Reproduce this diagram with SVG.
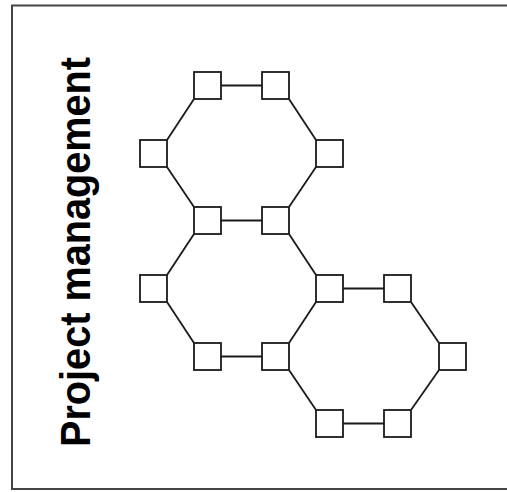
<svg xmlns="http://www.w3.org/2000/svg" width="507" height="492" viewBox="0 0 507 492">
<style>
.frame{fill:none;stroke:#454545;stroke-width:2}
.node rect{fill:#fff;stroke:#1a1a1a;stroke-width:1.8}
.conn line{stroke:#1a1a1a;stroke-width:1.8}
.title{font-family:"Liberation Sans",Arial,sans-serif;font-weight:bold;font-size:42px;fill:#000}
</style>
<rect width="507" height="492" fill="#fff"/>
<rect class="frame" x="12" y="5.5" width="520" height="483.5"/>
<text class="title" transform="translate(90,252) rotate(-90)" text-anchor="middle" textLength="390" lengthAdjust="spacingAndGlyphs">Project management</text>
<g id="connectors" class="conn">
<line x1="221" y1="85.5" x2="262" y2="85.5"/>
<line x1="289" y1="99" x2="316" y2="140"/>
<line x1="316" y1="167" x2="289" y2="207"/>
<line x1="221" y1="220.5" x2="262" y2="220.5"/>
<line x1="194" y1="207" x2="167" y2="167"/>
<line x1="167" y1="140" x2="194" y2="99"/>
<line x1="289" y1="234" x2="316" y2="275"/>
<line x1="316" y1="302" x2="289" y2="343"/>
<line x1="221" y1="356.5" x2="262" y2="356.5"/>
<line x1="194" y1="343" x2="167" y2="302"/>
<line x1="167" y1="275" x2="194" y2="234"/>
<line x1="343" y1="288.5" x2="384" y2="288.5"/>
<line x1="411" y1="302" x2="439" y2="343"/>
<line x1="439" y1="370" x2="411" y2="410"/>
<line x1="343" y1="423.5" x2="384" y2="423.5"/>
<line x1="316" y1="410" x2="289" y2="370"/>
</g>
<g id="nA" class="node"><rect x="194" y="72" width="27" height="27"/></g>
<g id="nB" class="node"><rect x="262" y="72" width="27" height="27"/></g>
<g id="nC" class="node"><rect x="316" y="140" width="27" height="27"/></g>
<g id="nF" class="node"><rect x="140" y="140" width="27" height="27"/></g>
<g id="nE" class="node"><rect x="194" y="207" width="27" height="27"/></g>
<g id="nD" class="node"><rect x="262" y="207" width="27" height="27"/></g>
<g id="nJ" class="node"><rect x="140" y="275" width="27" height="27"/></g>
<g id="nG" class="node"><rect x="316" y="275" width="27" height="27"/></g>
<g id="nK" class="node"><rect x="384" y="275" width="27" height="27"/></g>
<g id="nI" class="node"><rect x="194" y="343" width="27" height="27"/></g>
<g id="nH" class="node"><rect x="262" y="343" width="27" height="27"/></g>
<g id="nL" class="node"><rect x="439" y="343" width="27" height="27"/></g>
<g id="nN" class="node"><rect x="316" y="410" width="27" height="27"/></g>
<g id="nM" class="node"><rect x="384" y="410" width="27" height="27"/></g>
</svg>
